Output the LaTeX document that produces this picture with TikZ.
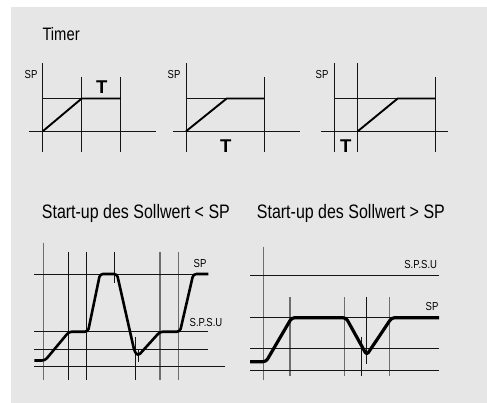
\documentclass[tikz,border=0pt]{standalone}
\usepackage{fontspec}
\setmainfont{Liberation Sans}
\newfontfamily\nar{Liberation Sans}[FakeStretch=0.82]
\definecolor{bg}{RGB}{230,230,230}
\definecolor{ln}{RGB}{20,20,20}
\definecolor{gl}{RGB}{110,110,110}
\tikzset{
  thin line/.style={draw=ln, line width=0.9pt},
  gray line/.style={draw=gl, line width=1.1pt},
  curve/.style={draw=black, line width=2.6pt, rounded corners=3pt, line join=round},
  tcurve/.style={draw=black, line width=1.9pt, line join=round},
  lbl/.style={inner sep=0pt, anchor=base, font=\nar\fontsize{11.6}{12}\selectfont},
  ttl/.style={inner sep=0pt, anchor=base west, font=\nar\fontsize{19.5}{20}\selectfont},
  tbold/.style={inner sep=0pt, anchor=base, font=\bfseries\fontsize{18.5}{19}\selectfont}
}
\begin{document}
\begin{tikzpicture}[x=1pt,y=-1pt]
\useasboundingbox (0,0) rectangle (487,403);
\fill[bg] (11,7) rectangle (487,403);
% title
\node[ttl, font=\nar\fontsize{18}{19}\selectfont] (timer) at (42.3,40.7) {Timer};
% ---- timer plot 1
\draw[thin line] (42.7,63) -- (42.7,152);
\draw[thin line] (81.7,77) -- (81.7,152);
\draw[thin line] (120.7,77) -- (120.7,152);
\draw[thin line] (29.3,131.3) -- (156,131.3);
\draw[thin line] (42.7,98.5) -- (120.7,98.5);
\draw[tcurve] (42.7,131.3) -- (81.7,98.5) -- (120.7,98.5);
\node[lbl] (sp1) at (31,78.3) {SP};
\node[tbold] (t1) at (101.7,93.3) {T};
% ---- timer plot 2
\draw[thin line] (186,63) -- (186,152);
\draw[thin line] (264.3,77) -- (264.3,152);
\draw[thin line] (173,131.3) -- (300,131.3);
\draw[thin line] (186,98.5) -- (264.3,98.5);
\draw[tcurve] (186,131.3) -- (226.7,98.5) -- (264.3,98.5);
\node[lbl] (sp2) at (174,78.3) {SP};
\node[tbold] (t2) at (225.7,152.3) {T};
% ---- timer plot 3
\draw[thin line] (334.3,63) -- (334.3,152);
\draw[thin line] (357.7,63) -- (357.7,152);
\draw[thin line] (435.7,77) -- (435.7,152);
\draw[thin line] (321,131.3) -- (447.7,131.3);
\draw[thin line] (334.3,98.5) -- (435.7,98.5);
\draw[tcurve] (357.7,131.3) -- (397.7,98.5) -- (435.7,98.5);
\node[lbl] (sp3) at (322,78.3) {SP};
\node[tbold] (t3) at (345.7,152.3) {T};
% ---- lower titles
\node[ttl] (title1) at (41.7,218.8) {Start-up des Sollwert < SP};
\node[ttl] (title2) at (256.7,218.8) {Start-up des Sollwert > SP};
% ---- lower left plot
\draw[gray line] (43.3,242.7) -- (43.3,380);
\draw[thin line] (68.3,251.7) -- (68.3,380);
\draw[thin line] (86.7,251.7) -- (86.7,380);
\draw[thin line] (114.3,251.7) -- (114.3,283.3);
\draw[thin line] (135,337) -- (135,380);
\draw[thin line] (138.5,350) -- (138.5,362);
\draw[gray line] (160,251.7) -- (160,380);
\draw[gray line] (178.3,251.7) -- (178.3,380);
\draw[thin line] (34.3,274) -- (208.3,274);
\draw[thin line] (34.3,331.7) -- (208.3,331.7);
\draw[thin line] (34.3,349.3) -- (208.3,349.3);
\draw[thin line] (34.3,366.7) -- (225,366.7);
\draw[curve] (34.3,360.5) -- (45,360.5) -- (69,331.7) -- (88,331.7) -- (100,274) -- (117,274) -- (134.5,351.5) -- (138,356) -- (160,331.7) -- (180,331.7) -- (193.3,274) -- (208.3,274);
\node[lbl] (spl) at (200,268) {SP};
\node[lbl] (spsul) at (206,326) {S.P.S.U};
% ---- lower right plot
\draw[gray line] (263.3,246.7) -- (263.3,380);
\draw[gray line] (290,297.3) -- (290,376);
\draw[gray line] (344.3,297.3) -- (344.3,376);
\draw[thin line] (366.7,297.3) -- (366.7,364);
\draw[thin line] (361.7,336.7) -- (361.7,376);
\draw[gray line] (389.3,297.3) -- (389.3,376);
\draw[thin line] (250,275) -- (439,275);
\draw[thin line] (250,317.7) -- (439,317.7);
\draw[thin line] (250,348.3) -- (439,348.3);
\draw[thin line] (250,370.7) -- (439,370.7);
\draw[curve, line width=3.2pt] (250,361.7) -- (266,361.7) -- (291.7,317.7) -- (346,317.7) -- (366.7,355) -- (391.7,317.7) -- (439,317.7);
\node[lbl] (spsur) at (420.7,269) {S.P.S.U};
\node[lbl] (spr) at (432,310.5) {SP};
\end{tikzpicture}
\end{document}
